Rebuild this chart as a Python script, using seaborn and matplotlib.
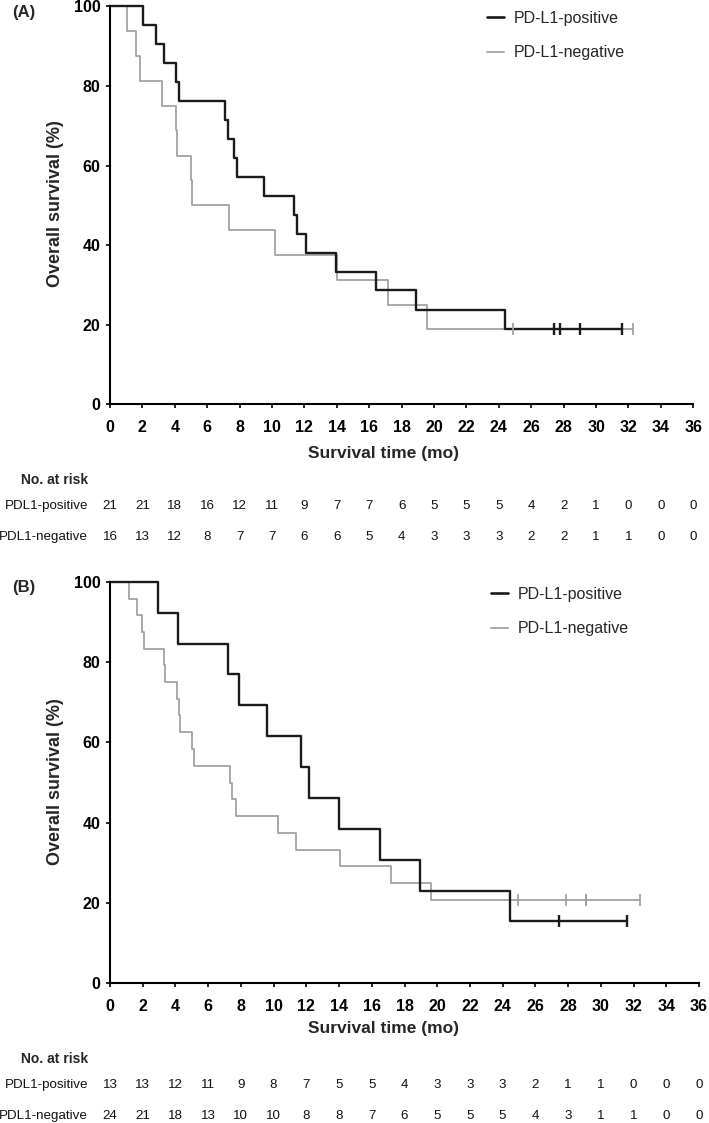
import numpy as np
import pandas as pd
import matplotlib
matplotlib.use("Agg")
import matplotlib.pyplot as plt
import matplotlib.transforms as mtransforms
from matplotlib.lines import Line2D
import seaborn as sns

# Kaplan-Meier steps (time in months, survival in %)
a_pos_time = [0, 2.02, 2.84, 3.33, 4.05, 4.26, 7.12, 7.30, 7.65, 7.82, 9.5, 11.36, 11.56, 12.1, 13.93, 16.42, 18.89, 24.36]
a_pos_surv = [100, 95.2, 90.5, 85.7, 81.0, 76.2, 71.4, 66.7, 61.9, 57.1, 52.4, 47.6, 42.9, 38.1, 33.3, 28.6, 23.8, 19.0]
a_pos_cens = [27.4, 27.8, 29.0, 31.6]

a_neg_time = [0, 1.03, 1.58, 1.87, 3.23, 4.05, 4.14, 4.98, 5.04, 7.37, 10.19, 14.0, 17.14, 19.57]
a_neg_surv = [100, 93.8, 87.5, 81.3, 75.0, 68.8, 62.5, 56.3, 50.0, 43.8, 37.5, 31.3, 25.0, 18.8]
a_neg_cens = [24.9, 29.0, 32.3]

b_pos_time = [0, 2.92, 4.14, 7.2, 7.9, 9.57, 11.67, 12.16, 13.97, 16.5, 18.93, 24.44]
b_pos_surv = [100, 92.3, 84.6, 76.9, 69.2, 61.5, 53.8, 46.2, 38.5, 30.8, 23.1, 15.4]
b_pos_cens = [27.46, 31.58]

b_neg_time = [0, 1.16, 1.65, 1.94, 2.06, 3.30, 3.38, 4.12, 4.22, 4.30, 5.04, 5.12, 7.36, 7.45, 7.73,
              10.24, 11.36, 14.08, 17.2, 19.63]
b_neg_surv = [100, 95.8, 91.7, 87.5, 83.3, 79.2, 75.0, 70.8, 66.7, 62.5, 58.3, 54.2, 50.0, 45.8, 41.7,
              37.5, 33.3, 29.2, 25.0, 20.8]
b_neg_cens = [24.95, 27.89, 29.07, 29.07, 32.37]

# numbers at risk
risk_times = list(range(0, 37, 2))
a_risk_pos = [21, 21, 18, 16, 12, 11, 9, 7, 7, 6, 5, 5, 5, 4, 2, 1, 0, 0, 0]
a_risk_neg = [16, 13, 12, 8, 7, 7, 6, 6, 5, 4, 3, 3, 3, 2, 2, 1, 1, 0, 0]
b_risk_pos = [13, 13, 12, 11, 9, 8, 7, 5, 5, 4, 3, 3, 3, 2, 1, 1, 0, 0, 0]
b_risk_neg = [24, 21, 18, 13, 10, 10, 8, 8, 7, 6, 5, 5, 5, 4, 3, 1, 1, 0, 0]

group_labels = ["PD-L1-positive", "PD-L1-negative"]
risk_labels = ["PDL1-positive", "PDL1-negative"]

BLACK = "#1b1b1b"
GREY = "#a2a2a2"
W, H = 709, 1123

sns.set_theme(style="ticks")
plt.rcParams["font.family"] = ["Liberation Sans", "DejaVu Sans"]


def step_value(times, surv, t):
    idx = np.searchsorted(times, t, side="right") - 1
    return surv[idx]


def draw_curve(ax, times, surv, cens, color, lw):
    t = list(times) + [max(cens)]
    s = list(surv) + [surv[-1]]
    df = pd.DataFrame({"time": t, "surv": s})
    sns.lineplot(data=df, x="time", y="surv", ax=ax, color=color, linewidth=lw,
                 drawstyle="steps-post", estimator=None, sort=False, clip_on=False)
    cdf = pd.DataFrame({"time": cens, "surv": [step_value(times, surv, c) for c in cens]})
    sns.scatterplot(data=cdf, x="time", y="surv", ax=ax, marker="|", s=70,
                    color=color, linewidth=lw, zorder=3, clip_on=False)


def rect_top(rect):
    return (1 - rect[1] - rect[3]) * H


def panel(fig, rect, tag, pos, neg, risk_pos, risk_neg, y_rows, xlabel_y, ylabel_y, leg_xy):
    ax = fig.add_axes(rect)
    draw_curve(ax, *neg, GREY, 1.3)
    draw_curve(ax, *pos, BLACK, 1.7)
    ax.set_xlim(0, 36)
    ax.set_ylim(0, 100)
    ax.set_xticks(range(0, 37, 2))
    ax.set_yticks(range(0, 101, 20))
    ax.set_xlabel("")
    ax.set_ylabel("")
    for lab in ax.get_xticklabels() + ax.get_yticklabels():
        lab.set_fontweight("bold")
    ax.tick_params(axis="x", direction="out", length=3, width=1.2, pad=8, labelsize=11.5, colors="black")
    ax.tick_params(axis="y", direction="out", length=3, width=1.2, pad=4, labelsize=11.5, colors="black")
    sns.despine(ax=ax)
    for sp in ("left", "bottom"):
        ax.spines[sp].set_linewidth(1.5)
        ax.spines[sp].set_color("black")

    handles = [Line2D([], [], color=BLACK, lw=1.9), Line2D([], [], color=GREY, lw=1.3)]
    ax.legend(handles, group_labels, loc="upper left", frameon=False, fontsize=11.5,
              bbox_to_anchor=(leg_xy[0] / W, 1 - leg_xy[1] / H), bbox_transform=fig.transFigure,
              borderpad=0, borderaxespad=0, handlelength=1.05, handletextpad=0.6, labelspacing=1.25)

    fig.text(12 / W, 1 - (rect_top(rect) + 6) / H, tag, fontsize=12, fontweight="bold", va="center", ha="left")
    fig.text(56 / W, 1 - ylabel_y / H, "Overall survival (%)", rotation=90, fontsize=13,
             fontweight="bold", ha="center", va="center")
    fig.text(383 / W, 1 - xlabel_y / H, "Survival time (mo)", fontsize=12.5,
             fontweight="bold", ha="center", va="center")

    trans = mtransforms.blended_transform_factory(ax.transData, fig.transFigure)
    fig.text(88 / W, 1 - y_rows[0] / H, "No. at risk", fontsize=10, fontweight="bold", ha="right", va="center")
    for label, counts, yy in zip(risk_labels, [risk_pos, risk_neg], y_rows[1:]):
        fig.text(88 / W, 1 - yy / H, label, fontsize=9.6, ha="right", va="center", color="#111111")
        for t, n in zip(risk_times, counts):
            ax.text(t, 1 - yy / H, str(n), transform=trans, fontsize=9.6, ha="center",
                    va="center", color="#111111")
    return ax


fig = plt.figure(figsize=(W / 100, H / 100), dpi=100)
fig.patch.set_facecolor("white")

rect_a = [110 / W, 1 - 404.3 / H, 583.3 / W, 398 / H]
rect_b = [110 / W, 1 - 983.3 / H, 589 / W, 401.6 / H]

panel(fig, rect_a, "(A)", (a_pos_time, a_pos_surv, a_pos_cens), (a_neg_time, a_neg_surv, a_neg_cens),
      a_risk_pos, a_risk_neg, (480, 505.7, 536.7), 453.3, 204, (487, 10.5))
panel(fig, rect_b, "(B)", (b_pos_time, b_pos_surv, b_pos_cens), (b_neg_time, b_neg_surv, b_neg_cens),
      b_risk_pos, b_risk_neg, (1059, 1085, 1115.7), 1029, 782, (491, 586.5))

fig.savefig("out.png", dpi=100)
